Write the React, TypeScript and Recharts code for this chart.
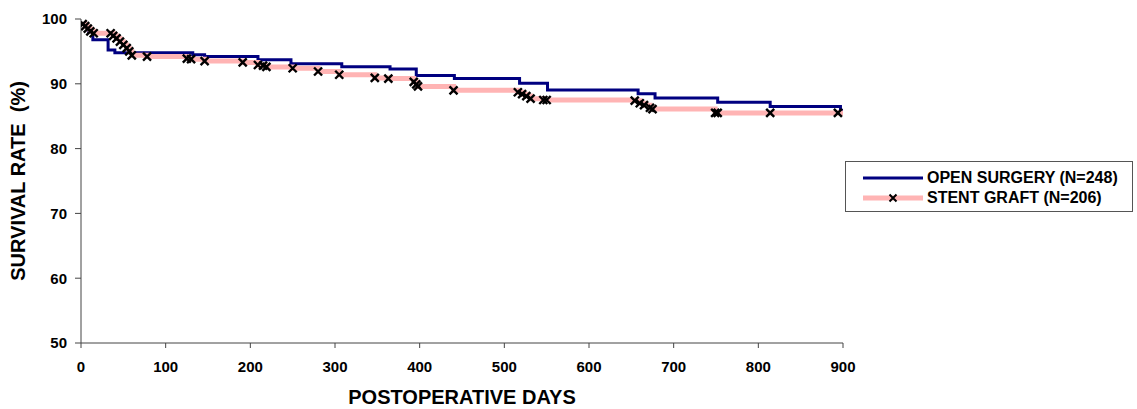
import { ComposedChart, Line, XAxis, YAxis, Legend } from 'recharts'

// Kaplan-Meier style survival
const openDays = [0, 4, 9, 14, 32, 40, 132, 146, 209, 248, 308, 365, 396, 441, 518, 551, 658, 678, 752, 814, 897, 900]
const openSurvival = [99.3, 98.8, 98.0, 96.8, 95.2, 94.8, 94.5, 94.2, 93.7, 93.1, 92.65, 92.3, 91.3, 90.8, 90.1, 89.05, 88.45, 87.8, 87.15, 86.5, 85.9, 85.9]

const stentDays = [2, 5, 8, 11, 15, 35, 38, 42, 46, 50, 54, 57, 60, 78, 125, 130, 146, 191, 209, 215, 219, 250, 280, 305, 347, 363, 393, 396, 398, 440, 516, 521, 526, 531, 546, 550, 654, 660, 665, 672, 675, 749, 752, 814, 894, 902]
const stentSurvival = [99.2, 98.9, 98.5, 98.1, 97.8, 97.8, 97.4, 97.0, 96.5, 96.0, 95.5, 95.0, 94.4, 94.2, 93.9, 93.8, 93.5, 93.3, 92.9, 92.8, 92.6, 92.4, 91.9, 91.4, 90.9, 90.8, 90.3, 89.9, 89.6, 89.0, 88.7, 88.4, 88.1, 87.7, 87.5, 87.5, 87.4, 87.0, 86.7, 86.3, 86.1, 85.5, 85.5, 85.5, 85.5, 85.5]

const xTicks = [0, 100, 200, 300, 400, 500, 600, 700, 800, 900]
const yTicks = [50, 60, 70, 80, 90, 100]

const seriesNames = ['OPEN SURGERY (N=248)', 'STENT GRAFT (N=206)']

const openData = openDays.map((d, i) => ({ day: d, rate: openSurvival[i] }))
const stentData = stentDays.map((d, i) => ({ day: d, rate: stentSurvival[i] }))

const FONT = '"Liberation Sans", Arial, sans-serif'
const NAVY = '#000080'
const PINK = '#FFB4B4'
const AXIS = '#444'

const xPath = (cx: number, cy: number, s: number) =>
  `M${cx - s},${cy - s}L${cx + s},${cy + s}M${cx - s},${cy + s}L${cx + s},${cy - s}`

const CrossDot = (props: any) => {
  const { cx, cy, index } = props
  // last point only closes the line, no censor mark
  if (cx == null || cy == null || index === stentDays.length - 1) return <g key={`x-${index}`} />
  return <path key={`x-${index}`} d={xPath(cx, cy, 4)} stroke="#000" strokeWidth={2.4} fill="none" />
}

const renderLegend = () => (
  <div
    style={{
      position: 'relative',
      width: 288,
      height: 51,
      boxSizing: 'border-box',
      border: '1px solid #555',
      background: '#fff',
      fontFamily: FONT,
      fontWeight: 'bold',
      fontSize: 16,
      color: '#000',
    }}
  >
    <svg width={62} height={12} style={{ position: 'absolute', left: 17, top: 10 }}>
      <line x1={0} x2={60} y1={6} y2={6} stroke={NAVY} strokeWidth={3} />
    </svg>
    <span style={{ position: 'absolute', left: 81, top: 6, lineHeight: '20px', whiteSpace: 'nowrap' }}>
      {seriesNames[0]}
    </span>
    <svg width={62} height={12} style={{ position: 'absolute', left: 17, top: 30 }}>
      <line x1={0} x2={60} y1={6} y2={6} stroke={PINK} strokeWidth={5} />
      <path d={xPath(30, 6, 3.5)} stroke="#000" strokeWidth={2} fill="none" />
    </svg>
    <span style={{ position: 'absolute', left: 81, top: 26, lineHeight: '20px', whiteSpace: 'nowrap' }}>
      {seriesNames[1]}
    </span>
  </div>
)

const YTitle = (props: any) => {
  const { viewBox } = props
  const cx = viewBox.x + 18
  const cy = viewBox.y + viewBox.height / 2
  return (
    <text
      x={cx}
      y={cy}
      transform={`rotate(-90, ${cx}, ${cy})`}
      textAnchor="middle"
      dominantBaseline="central"
      fontFamily={FONT}
      fontWeight="bold"
      fontSize={20}
      fill="#000"
      style={{ whiteSpace: 'pre' }}
    >
      SURVIVAL RATE{'\u00a0\u00a0'}(%)
    </text>
  )
}

const XTitle = (props: any) => {
  const { viewBox } = props
  return (
    <text
      x={viewBox.x + viewBox.width / 2}
      y={viewBox.y + 61}
      textAnchor="middle"
      fontFamily={FONT}
      fontWeight="bold"
      fontSize={20}
      fill="#000"
    >
      POSTOPERATIVE DAYS
    </text>
  )
}

export default function App() {
  return (
    <div style={{ position: 'absolute', left: 0, top: 0, width: 1137, height: 409, background: '#fff' }}>
      <ComposedChart width={1137} height={409} margin={{ top: 19, right: 294, bottom: 0, left: 0 }}>
        <XAxis
          dataKey="day"
          type="number"
          domain={[0, 900]}
          ticks={xTicks}
          height={66}
          allowDataOverflow
          stroke={AXIS}
          tickSize={5}
          tickMargin={13}
          tick={{ fill: '#000', fontSize: 15, fontWeight: 'bold', fontFamily: FONT }}
          label={<XTitle />}
        />
        <YAxis
          type="number"
          domain={[50, 100]}
          ticks={yTicks}
          width={81}
          allowDataOverflow
          stroke={AXIS}
          tickSize={6}
          tickMargin={8}
          tick={{ fill: '#000', fontSize: 15, fontWeight: 'bold', fontFamily: FONT }}
          label={<YTitle />}
        />
        <Legend
          layout="vertical"
          align="center"
          verticalAlign="middle"
          content={renderLegend}
          wrapperStyle={{ left: 845, top: 161, width: 288, height: 51 }}
        />
        <Line
          data={openData}
          dataKey="rate"
          name={seriesNames[0]}
          type="stepAfter"
          stroke={NAVY}
          strokeWidth={3}
          dot={false}
          activeDot={false}
          isAnimationActive={false}
        />
        <Line
          data={stentData}
          dataKey="rate"
          name={seriesNames[1]}
          type="stepAfter"
          stroke={PINK}
          strokeWidth={5}
          dot={CrossDot}
          activeDot={false}
          isAnimationActive={false}
        />
      </ComposedChart>
    </div>
  )
}
